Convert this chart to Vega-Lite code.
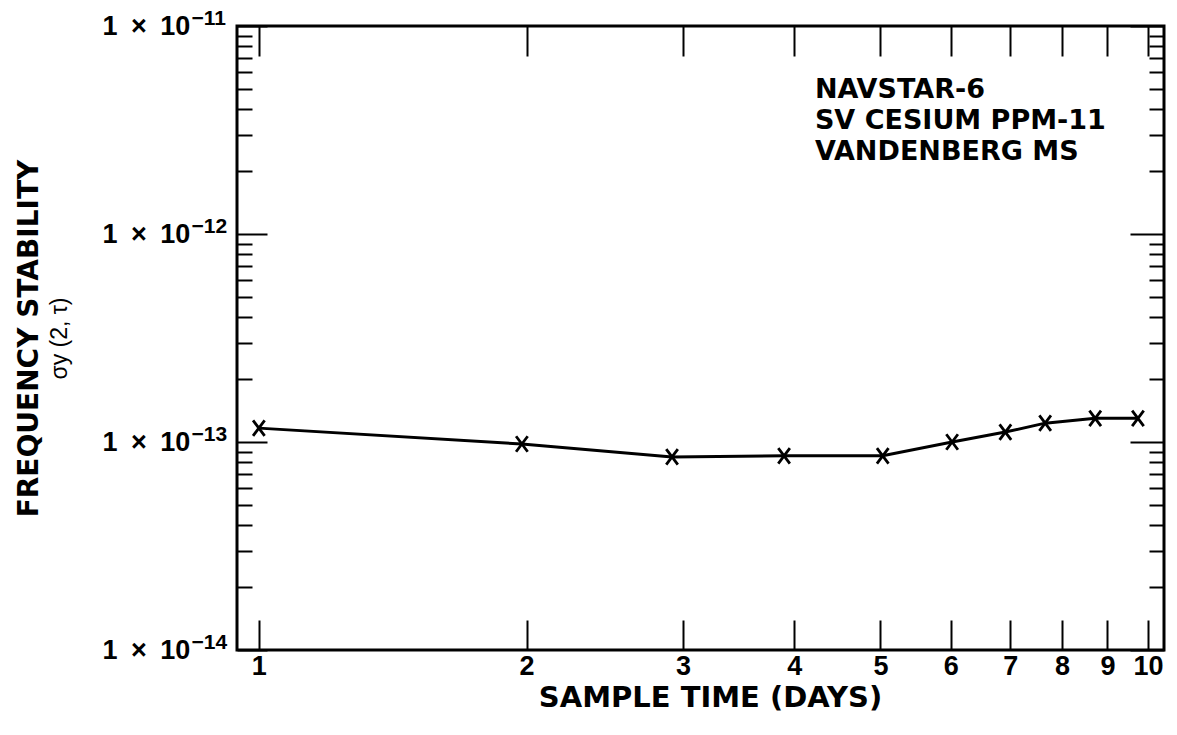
{
  "$schema": "https://vega.github.io/schema/vega-lite/v6.json",
  "width": 927,
  "height": 624,
  "autosize": {"type": "none"},
  "padding": {"left": 237, "top": 26, "right": 13, "bottom": 85},
  "background": "white",
  "config": {
    "view": {"stroke": "black", "strokeWidth": 3},
    "axis": {"grid": false, "domain": false, "tickColor": "black", "tickWidth": 2, "labelColor": "black", "titleColor": "black", "labelOverlap": false, "labelBound": false, "labelFlush": false}
  },
  "datasets": {
    "stability": [
      {"days": 1.0, "sigma": 1.166e-13},
      {"days": 1.976, "sigma": 0.978e-13},
      {"days": 2.915, "sigma": 0.848e-13},
      {"days": 3.896, "sigma": 0.858e-13},
      {"days": 5.03, "sigma": 0.858e-13},
      {"days": 6.02, "sigma": 1.0e-13},
      {"days": 6.91, "sigma": 1.116e-13},
      {"days": 7.66, "sigma": 1.232e-13},
      {"days": 8.72, "sigma": 1.30e-13},
      {"days": 9.74, "sigma": 1.30e-13}
    ]
  },
  "layer": [
    {
      "data": {"name": "stability"},
      "mark": {"type": "line", "color": "black", "strokeWidth": 3},
      "encoding": {
        "x": {
          "field": "days", "type": "quantitative",
          "scale": {"type": "log", "domain": [0.945, 10.42], "nice": false},
          "axis": {
            "orient": "bottom", "values": [1, 2, 3, 4, 5, 6, 7, 8, 9, 10], "tickSize": -30,
            "labelExpr": "format(datum.value, 'd')",
            "labelFont": "Liberation Sans", "labelFontWeight": "bold", "labelFontSize": 27, "labelPadding": 33,
            "title": "SAMPLE TIME (DAYS)", "titleFont": "DejaVu Sans", "titleFontSize": 29, "titleFontWeight": "bold", "titlePadding": 4, "titleX": 473
          }
        },
        "y": {
          "field": "sigma", "type": "quantitative",
          "scale": {"type": "log", "domain": [1e-14, 1e-11], "nice": false},
          "axis": {
            "orient": "left",
            "values": [1e-14, 2e-14, 3e-14, 4e-14, 5e-14, 6e-14, 7e-14, 8e-14, 9e-14, 1e-13, 2e-13, 3e-13, 4e-13, 5e-13, 6e-13, 7e-13, 8e-13, 9e-13, 1e-12, 2e-12, 3e-12, 4e-12, 5e-12, 6e-12, 7e-12, 8e-12, 9e-12, 1e-11],
            "tickSize": {"condition": {"test": "abs(log(datum.value)/LN10 - round(log(datum.value)/LN10)) < 0.01", "value": -30}, "value": -15},
            "labelExpr": "abs(log(datum.value)/LN10 - round(log(datum.value)/LN10)) < 0.01 ? '1\u2002×\u200210' : ''",
            "labelFont": "Liberation Sans", "labelFontWeight": "bold", "labelFontSize": 27, "labelPadding": 165, "labelBaseline": "middle", "labelAlign": "left",
            "title": "FREQUENCY STABILITY", "titleFont": "DejaVu Sans", "titleFontSize": 28, "titleFontWeight": "bold", "titlePadding": 44
          }
        }
      }
    },
    {
      "data": {"name": "stability"},
      "mark": {"type": "point", "shape": "M-0.75,-1L0.75,1M0.75,-1L-0.75,1", "filled": false, "color": "black", "strokeWidth": 2.8, "size": 240, "opacity": 1},
      "encoding": {
        "x": {
          "field": "days", "type": "quantitative",
          "scale": {"type": "log", "domain": [0.945, 10.42], "nice": false},
          "axis": {"orient": "top", "values": [1, 2, 3, 4, 5, 6, 7, 8, 9, 10], "tickSize": -30, "labels": false, "title": null}
        },
        "y": {
          "field": "sigma", "type": "quantitative",
          "scale": {"type": "log", "domain": [1e-14, 1e-11], "nice": false},
          "axis": {
            "orient": "right",
            "values": [1e-14, 2e-14, 3e-14, 4e-14, 5e-14, 6e-14, 7e-14, 8e-14, 9e-14, 1e-13, 2e-13, 3e-13, 4e-13, 5e-13, 6e-13, 7e-13, 8e-13, 9e-13, 1e-12, 2e-12, 3e-12, 4e-12, 5e-12, 6e-12, 7e-12, 8e-12, 9e-12, 1e-11],
            "tickSize": {"condition": {"test": "abs(log(datum.value)/LN10 - round(log(datum.value)/LN10)) < 0.01", "value": -34}, "value": -15},
            "labels": false, "title": null
          }
        }
      }
    },
    {
      "data": {"values": [{}]},
      "mark": {"type": "text", "text": ["NAVSTAR-6", "SV CESIUM PPM-11", "VANDENBERG MS"], "align": "left", "baseline": "alphabetic", "font": "DejaVu Sans", "fontSize": 27, "fontWeight": "bold", "lineHeight": 31, "color": "black"},
      "encoding": {
        "x": {"datum": 4.22, "type": "quantitative", "scale": {"type": "log", "domain": [0.945, 10.42], "nice": false}, "axis": null},
        "y": {
          "datum": 4.5e-12, "type": "quantitative",
          "scale": {"type": "log", "domain": [1e-14, 1e-11], "nice": false},
          "axis": {
            "orient": "left", "ticks": false, "domain": false,
            "values": [1e-14, 1e-13, 1e-12, 1e-11],
            "labelExpr": "round(log(datum.value)/LN10) == -11 ? '−11' : round(log(datum.value)/LN10) == -12 ? '−12' : round(log(datum.value)/LN10) == -13 ? '−13' : '−14'",
            "labelFont": "Liberation Sans", "labelFontWeight": "bold", "labelFontSize": 21, "labelPadding": 46, "labelAlign": "left", "labelBaseline": "middle", "labelOffset": -8,
            "title": "σy (2, τ)", "titleFont": "Liberation Sans", "titleFontSize": 23, "titleFontWeight": "normal", "titlePadding": 120
          }
        }
      }
    }
  ],
  "resolve": {"axis": {"x": "independent", "y": "independent"}}
}
